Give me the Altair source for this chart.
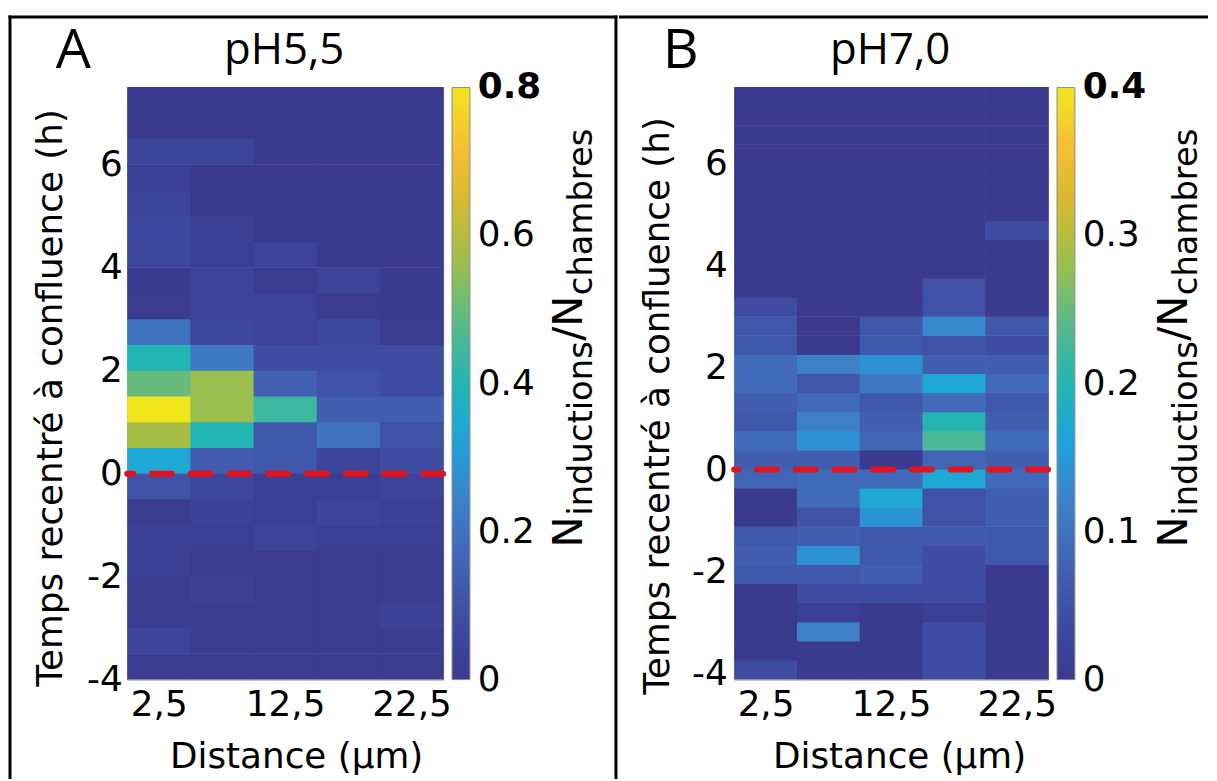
import altair as alt
import pandas as pd

# ---------------- data ----------------
distance_centers = [2.5, 7.5, 12.5, 17.5, 22.5]
distance_half_width = 2.5

# Panel A (pH 5,5): 0.5 h time bins from -4 h upward (rows listed bottom -> top)
time_start_A = -4.0
time_step_A = 0.5
values_A = [
    [0.01, 0.01, 0.01, 0.01, 0.01],   # -4.0
    [0.04, 0.01, 0.01, 0.01, 0.01],   # -3.5
    [0.01, 0.01, 0.01, 0.01, 0.03],   # -3.0
    [0.01, 0.03, 0.01, 0.01, 0.01],   # -2.5
    [0.03, 0.01, 0.01, 0.01, 0.01],   # -2.0
    [0.03, 0.02, 0.04, 0.02, 0.02],   # -1.5
    [0.01, 0.03, 0.02, 0.05, 0.03],   # -1.0
    [0.10, 0.06, 0.02, 0.02, 0.04],   # -0.5
    [0.34, 0.13, 0.12, 0.05, 0.08],   #  0.0
    [0.58, 0.40, 0.12, 0.20, 0.10],   #  0.5
    [0.80, 0.56, 0.44, 0.14, 0.14],   #  1.0
    [0.50, 0.56, 0.15, 0.10, 0.08],   #  1.5
    [0.40, 0.22, 0.08, 0.08, 0.08],   #  2.0
    [0.20, 0.06, 0.04, 0.06, 0.01],   #  2.5
    [0.01, 0.04, 0.04, 0.01, 0.00],   #  3.0
    [0.00, 0.04, 0.01, 0.04, 0.00],   #  3.5
    [0.06, 0.02, 0.04, 0.00, 0.00],   #  4.0
    [0.07, 0.03, 0.00, 0.00, 0.00],   #  4.5
    [0.05, 0.00, 0.00, 0.00, 0.00],   #  5.0
    [0.03, 0.00, 0.00, 0.00, 0.00],   #  5.5
    [0.05, 0.05, 0.00, 0.00, 0.00],   #  6.0
    [0.00, 0.00, 0.00, 0.00, 0.00],   #  6.5
    [0.00, 0.00, 0.00, 0.00, 0.00],   #  7.0
]

# Panel B (pH 7,0): 0.375 h time bins from -4.125 h upward (rows bottom -> top)
time_start_B = -4.125
time_step_B = 0.375
values_B = [
    [0.04, 0.00, 0.00, 0.04, 0.00],   # -4.125
    [0.00, 0.00, 0.00, 0.04, 0.00],   # -3.75
    [0.00, 0.12, 0.00, 0.04, 0.00],   # -3.375
    [0.00, 0.01, 0.00, 0.01, 0.00],   # -3.0
    [0.00, 0.04, 0.04, 0.04, 0.00],   # -2.625
    [0.06, 0.06, 0.07, 0.04, 0.00],   # -2.25
    [0.07, 0.14, 0.06, 0.04, 0.06],   # -1.875
    [0.06, 0.07, 0.06, 0.06, 0.06],   # -1.5
    [0.00, 0.05, 0.14, 0.05, 0.07],   # -1.125
    [0.00, 0.09, 0.17, 0.05, 0.07],   # -0.75
    [0.08, 0.09, 0.09, 0.17, 0.09],   # -0.375
    [0.07, 0.07, 0.00, 0.08, 0.07],   #  0.0
    [0.09, 0.14, 0.08, 0.23, 0.09],   #  0.375
    [0.06, 0.12, 0.07, 0.20, 0.07],   #  0.75
    [0.07, 0.09, 0.06, 0.09, 0.06],   #  1.125
    [0.09, 0.06, 0.11, 0.17, 0.09],   #  1.5
    [0.09, 0.12, 0.14, 0.07, 0.07],   #  1.875
    [0.06, 0.00, 0.06, 0.05, 0.04],   #  2.25
    [0.06, 0.00, 0.06, 0.13, 0.06],   #  2.625
    [0.04, 0.00, 0.00, 0.05, 0.00],   #  3.0
    [0.00, 0.00, 0.00, 0.05, 0.00],   #  3.375
    [0.00, 0.00, 0.00, 0.00, 0.00],   #  3.75
    [0.00, 0.00, 0.00, 0.00, 0.00],   #  4.125
    [0.00, 0.00, 0.00, 0.00, 0.04],   #  4.5
    [0.00, 0.00, 0.00, 0.00, 0.00],   #  4.875
    [0.00, 0.00, 0.00, 0.00, 0.00],   #  5.25
    [0.00, 0.00, 0.00, 0.00, 0.00],   #  5.625
    [0.00, 0.00, 0.00, 0.00, 0.00],   #  6.0
    [0.00, 0.00, 0.00, 0.00, 0.00],   #  6.375
    [0.00, 0.00, 0.00, 0.00, 0.00],   #  6.75
    [0.00, 0.00, 0.00, 0.00, 0.00],   #  7.125
]

x_tick_values = [2.5, 12.5, 22.5]
y_tick_values = [-4, -2, 0, 2, 4, 6]
legend_ticks_A = [0, 0.2, 0.4, 0.6, 0.8]
legend_ticks_B = [0, 0.1, 0.2, 0.3, 0.4]
color_max_A = 0.8
color_max_B = 0.4
panel_titles = ["pH5,5", "pH7,0"]
panel_letters = ["A", "B"]
x_title = "Distance (µm)"
y_title = "Temps recentré à confluence (h)"

# parula-like colour map (evenly spaced stops over the colour range)
cmap_colors = ["#3a3a8e", "#3e4ca1", "#4264b5", "#3e80c8", "#1ca3de", "#23b5b2",
               "#56b98c", "#9bbf4e", "#d2b930", "#f8bd38", "#f2e61c"]

AX_FONT = "DejaVu Sans"
TITLE_FONT = "Open Sans"
H = 596
one = pd.DataFrame({"k": [0]})


def build_table(values, t_start, t_step):
    rows = []
    for i, row in enumerate(values):
        for j, v in enumerate(row):
            c = distance_centers[j]
            rows.append({"d0": c - distance_half_width, "d1": c + distance_half_width,
                         "t0": t_start + i * t_step, "t1": t_start + (i + 1) * t_step,
                         "v": v})
    return pd.DataFrame(rows)


def text(s, x, y, size, font, angle=0, align="left", weight="normal"):
    kw = dict(text=s, fontSize=size, font=font, align=align, baseline="alphabetic",
              fontWeight=weight, color="black")
    if angle:
        kw["angle"] = angle
    return alt.Chart(one).mark_text(**kw).encode(x=alt.value(x), y=alt.value(y))


def bar(x1, y1, x2, y2):
    # frame line drawn as a filled black band (exact bounds, no stroke)
    return alt.Chart(one).mark_rect(color="black", strokeWidth=0).encode(
        x=alt.value(x1), x2=alt.value(x2), y=alt.value(y1), y2=alt.value(y2))


def panel(values, t_start, t_step, cmax, legend_ticks, title, letter, W,
          ytitle_x, ytitle_y, xtitle_x, label_pad_y, extras):
    table = build_table(values, t_start, t_step)
    ydom = [t_start, t_start + t_step * len(values)]
    cscale = alt.Scale(domain=[0, cmax], range=cmap_colors, interpolate="rgb",
                       zero=False, nice=False)
    # nudge the end ticks inside the bar so their labels stay centred on them
    eps = cmax * 1e-6
    lvals = [min(max(v, eps), cmax - eps) for v in legend_ticks]
    heat = alt.Chart(table).mark_rect(x2Offset=0.6, y2Offset=-0.6).encode(
        x=alt.X("d0:Q", scale=alt.Scale(domain=[0, 25], nice=False, zero=False),
                axis=alt.Axis(values=x_tick_values,
                              labelExpr="replace(format(datum.value, '.1f'), '.', ',')",
                              title=x_title, titleX=xtitle_x, titleY=88,
                              titleBaseline="alphabetic", titleAlign="center",
                              labelPadding=8, labelFlush=False, labelOverlap=False)),
        x2="d1:Q",
        y=alt.Y("t0:Q", scale=alt.Scale(domain=ydom, nice=False, zero=False),
                axis=alt.Axis(values=y_tick_values, labelExpr="'' + datum.value",
                              title=y_title, titleX=ytitle_x, titleY=ytitle_y,
                              titleAngle=270, titleBaseline="alphabetic", titleAlign="center",
                              labelPadding=label_pad_y, labelFlush=False, labelOverlap=False)),
        y2="t1:Q",
        color=alt.Color("v:Q", scale=cscale,
                        legend=alt.Legend(type="gradient", values=lvals,
                                          labelExpr="format(round(datum.value * 10) / 10, '~g')",
                                          title=None, orient="right", direction="vertical",
                                          gradientLength=H, gradientThickness=18,
                                          gradientStrokeColor="#8a8a8a", gradientStrokeWidth=1,
                                          labelFont=AX_FONT, labelFontSize=36, labelColor="black",
                                          labelOffset=8, offset=9, padding=0,
                                          labelOverlap=False,
                                          labelFontWeight=alt.ExprRef(
                                              "datum.value >= %g ? 'bold' : 'normal'" % (cmax * 0.99)))),
    )
    zero = alt.Chart(one).mark_rule(color="#e3121c", strokeWidth=6, strokeDash=[20, 19],
                                    strokeCap="round").encode(y=alt.datum(0))
    # colour-bar label  N_inductions / N_chambres (rotated)
    xb = W + 139.5
    cb = [
        text("N", xb, 463, 42, AX_FONT, angle=270),
        text("inductions", xb + 10, 431, 34, AX_FONT, angle=270),
        text("/N", xb, 255, 42, AX_FONT, angle=270),
        text("chambres", xb + 10, 209, 34, AX_FONT, angle=270),
    ]
    deco = [
        text(letter, -72, -20, 56, TITLE_FONT),
        text(title, W / 2 - 1, -24, 44, TITLE_FONT, align="center"),
    ]
    return alt.layer(heat, zero, *cb, *deco, *extras).properties(width=W, height=H)


WA, WB = 318, 316
# frame bands (pixel offsets relative to each panel's plot area)
extras_A = [
    bar(-119.5, -72.5, 493.5, -69.5),   # top border
    bar(-119.5, -72.5, -116.5, 696),    # left border
    bar(490.5, -72.5, 493.5, 696),      # divider between panels
]
extras_B = [
    bar(-116, -72.5, 477, -69.5),       # top border (continues after divider)
]

pA = panel(values_A, time_start_A, time_step_A, color_max_A, legend_ticks_A,
           panel_titles[0], panel_letters[0], WA, -66, 312, 170, 5, extras_A)
pB = panel(values_B, time_start_B, time_step_B, color_max_B, legend_ticks_B,
           panel_titles[1], panel_letters[1], WB, -66, 320, 166, 7, extras_B)

chart = alt.hconcat(pA, pB, spacing=0).resolve_scale(
    color="independent", x="independent", y="independent"
).resolve_legend(color="independent").properties(
    padding={"left": 0, "top": 4.5, "right": 0, "bottom": 0}
).configure_view(stroke="#9a9a9a", strokeWidth=1).configure_axis(
    domain=False, ticks=False, grid=False,
    labelFont=AX_FONT, labelFontSize=36, labelColor="black",
    titleFont=AX_FONT, titleFontSize=36, titleFontWeight="normal", titleColor="black",
)

chart.save("out.html", embed_options={"renderer": "svg", "actions": False})
